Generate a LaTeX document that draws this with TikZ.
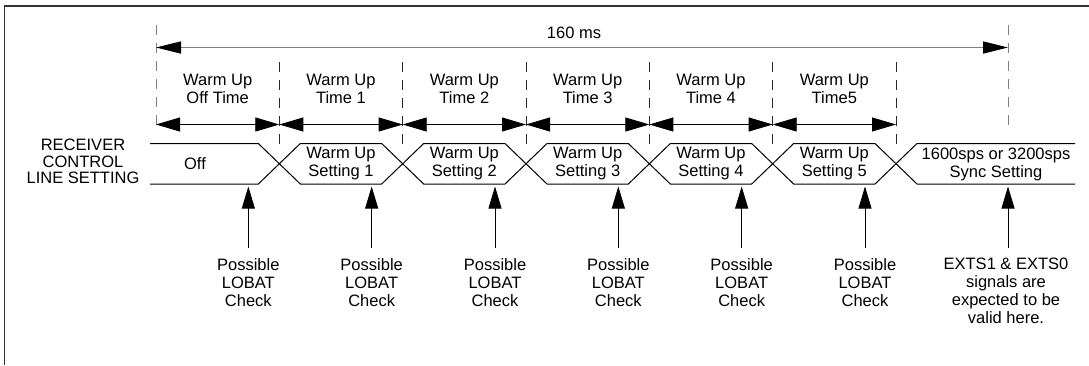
\documentclass[tikz,border=0pt]{standalone}
\usepackage{fontspec}
\setmainfont{Liberation Sans}
\usetikzlibrary{arrows.meta}
\begin{document}
\begin{tikzpicture}[x=1pt,y=-1pt,
  lbl/.style={font=\fontsize{16.5}{18}\selectfont, align=center, inner sep=0pt},
  dimarrow/.style={line width=0.8pt, {Triangle[length=24pt,width=14pt]}-{Triangle[length=24pt,width=14pt]}},
  guide/.style={line width=0.9pt, dash pattern=on 10pt off 8pt},
  busline/.style={line width=1pt},
  probe/.style={line width=0.8pt, -{Triangle[length=22pt,width=13pt]}, shorten <=10pt}]
\useasboundingbox (0,0) rectangle (1089,365);
% frame
\draw[line width=1.5pt, black!80] (4.7,365) -- (4.7,6) -- (1089,6);
% outer guides
\draw[guide, gray] (156,25) -- (156,131);
\draw[guide, gray] (1008,25) -- (1008,132);
% total arrow
\draw[line width=1.3pt, gray, {Triangle[length=25pt,width=12pt,color=black]}-{Triangle[length=25pt,width=12pt,color=black]}] (156,47.5) -- (1008,47.5);
\node[lbl] (total) at (574,33) {160 ms};
% inner guides
\foreach \i in {1,...,6}{
  \pgfmathsetmacro\xg{156+123.333*\i}
  \draw[guide, black!85] (\xg,62) -- (\xg,148);
}
% segment dimension arrows and labels
\foreach \i/\t in {0/{Warm Up\\Off Time},1/{Warm Up\\Time 1},2/{Warm Up\\Time 2},3/{Warm Up\\Time 3},4/{Warm Up\\Time 4},5/{Warm Up\\Time5}}{
  \pgfmathsetmacro\xl{156+123.333*\i}
  \pgfmathsetmacro\xr{156+123.333*(\i+1)}
  \pgfmathsetmacro\xm{(\xl+\xr)/2}
  \draw[dimarrow] (\xl,124.5) -- (\xr,124.5);
  \node[lbl] (seg\i) at (\xm,89) {\t};
}
% bus
\draw[busline] (150,143.5) -- (258.33,143.5) -- (300.33,184) -- (381.67,184) -- (423.67,143.5) -- (505,143.5) -- (547,184) -- (628.33,184) -- (670.33,143.5) -- (751.67,143.5) -- (793.67,184) -- (875,184) -- (917,143.5) -- (1075,143.5);
\draw[busline] (150,184) -- (258.33,184) -- (300.33,143.5) -- (381.67,143.5) -- (423.67,184) -- (505,184) -- (547,143.5) -- (628.33,143.5) -- (670.33,184) -- (751.67,184) -- (793.67,143.5) -- (875,143.5) -- (917,184) -- (1075,184);
\node[lbl, font=\fontsize{16.5}{16.5}\selectfont] (rcv) at (83,161.5) {RECEIVER\\CONTROL\\LINE SETTING};
\node[lbl] (off) at (195,164) {Off};
\foreach \i in {1,...,5}{
  \pgfmathsetmacro\xm{156+123.333*(\i+0.5)}
  \node[lbl] (set\i) at (\xm,164) {Warm Up\\Setting \i};
}
\node[lbl] (sync) at (996,164) {1600sps or 3200sps\\Sync Setting};
% probes
\foreach \i in {1,...,6}{
  \pgfmathsetmacro\xp{156+123.333*\i-31}
  \coordinate (tip\i) at (\xp,186.5);
  \node[lbl, anchor=north] (chk\i) at (\xp,258) {Possible\\LOBAT\\Check};
  \draw[probe] (chk\i.north) -- (tip\i);
}
\coordinate (tip7) at (1008,186.5);
\node[lbl, anchor=north] (exts) at (1006,258) {EXTS1 \& EXTS0\\signals are\\expected to be\\valid here.};
\draw[probe] (exts.north -| tip7) -- (tip7);
\end{tikzpicture}
\end{document}
